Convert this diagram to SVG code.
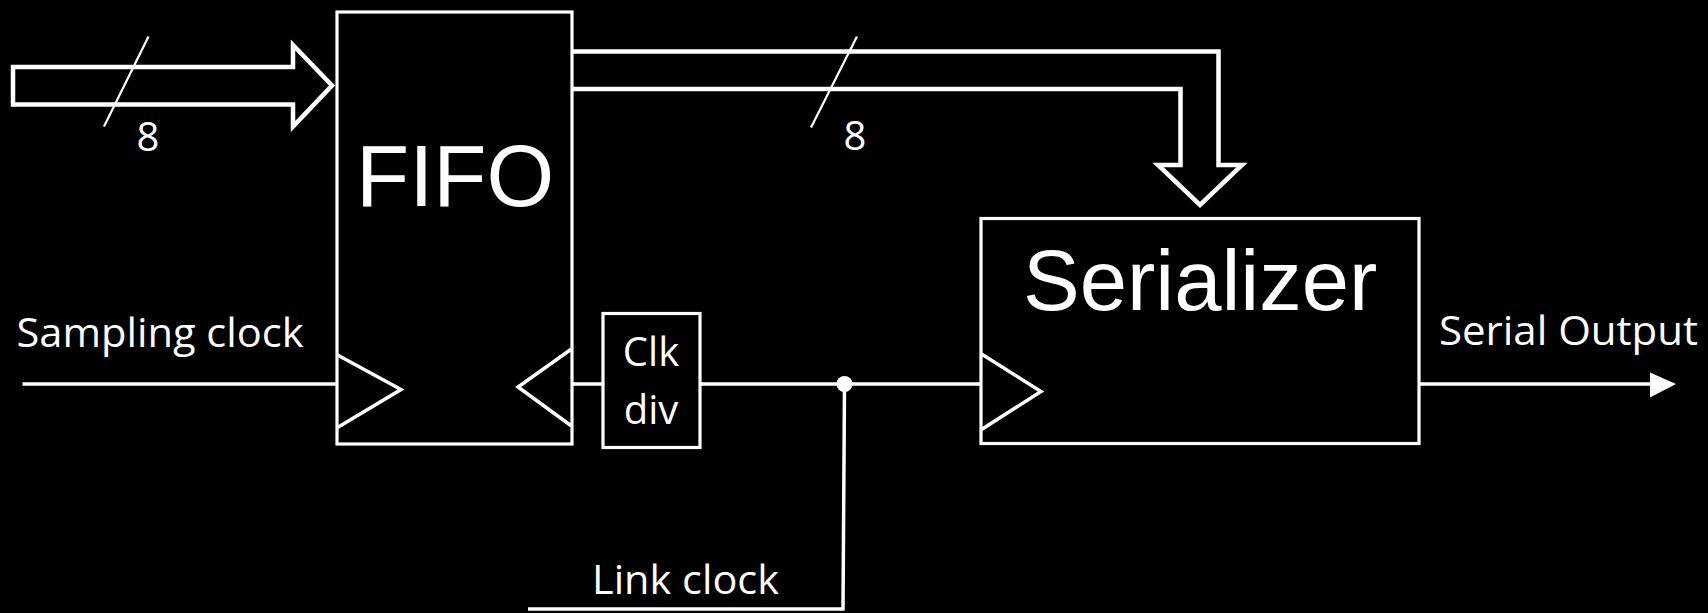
<svg xmlns="http://www.w3.org/2000/svg" width="1708" height="613" viewBox="0 0 1708 613">
  <style>
    .box { fill: #000; stroke: #fff; stroke-width: 3.2; }
    .bus { fill: none; stroke: #fff; stroke-width: 4.5; stroke-linejoin: miter; }
    .wire { fill: none; stroke: #fff; stroke-width: 3.5; }
    .clk { fill: none; stroke: #fff; stroke-width: 3.5; stroke-linejoin: miter; }
    .slash { stroke: #fff; stroke-width: 2.2; }
    .big { font-family: "Liberation Sans", Arial, sans-serif; fill: #fff; }
    .lbl { font-family: "Open Sans", "Noto Sans", sans-serif; fill: #fff; font-size: 40px; }
  </style>
  <rect x="0" y="0" width="1708" height="613" fill="#000"/>

  <g id="connectors">
    <!-- input 8-bit bus -->
    <polygon class="bus" points="13,67 293,67 293,45 332,85.5 293,126.5 293,104.5 13,104.5"/>
    <line class="slash" x1="148.5" y1="36.5" x2="104" y2="126.5"/>
    <!-- output 8-bit bus to serializer -->
    <polyline class="bus" points="572,51.5 1218.5,51.5 1218.5,165 1242,165 1200,205 1158,165 1180.5,165 1180.5,89 572,89"/>
    <line class="slash" x1="857" y1="36.5" x2="811" y2="127.5"/>
    <!-- clocks -->
    <line class="wire" x1="22.5" y1="384" x2="338" y2="384"/>
    <line class="wire" x1="571" y1="384" x2="603" y2="384"/>
    <line class="wire" x1="700" y1="384" x2="981" y2="384"/>
    <polyline class="wire" points="844.5,384 843,609 528,609"/>
    <circle cx="844.5" cy="384" r="8" fill="#fff"/>
    <!-- serial output -->
    <line class="wire" x1="1419" y1="384" x2="1652" y2="384"/>
    <polygon points="1650,372.5 1676,384 1650,397.5" fill="#fff"/>
  </g>

  <g id="fifo">
    <rect class="box" x="337" y="12" width="235" height="432"/>
    <polyline class="clk" points="337.5,355 401,389.5 337.5,427.5"/>
    <polyline class="clk" points="571.5,349 518,387 571.5,426"/>
    <text class="big" x="356" y="206" font-size="87">FIFO</text>
  </g>

  <g id="serializer">
    <rect class="box" x="981" y="218.5" width="438" height="225"/>
    <polyline class="clk" points="981.5,354 1041,391.5 981.5,429.5"/>
    <text class="big" x="1023" y="310" font-size="85">Serializer</text>
  </g>

  <g id="clkdiv">
    <rect class="box" x="603" y="313.5" width="97" height="134"/>
    <text class="lbl" x="651" y="366" text-anchor="middle">Clk</text>
    <text class="lbl" x="651" y="423.5" text-anchor="middle">div</text>
  </g>

  <g id="labels">
    <text class="lbl" x="136.5" y="151">8</text>
    <text class="lbl" x="843.5" y="150">8</text>
    <text class="lbl" x="16.5" y="346.5" textLength="287" lengthAdjust="spacingAndGlyphs">Sampling clock</text>
    <text class="lbl" x="592" y="594" textLength="187" lengthAdjust="spacingAndGlyphs">Link clock</text>
    <text class="lbl" x="1439" y="345" textLength="259" lengthAdjust="spacingAndGlyphs">Serial Output</text>
  </g>
</svg>
